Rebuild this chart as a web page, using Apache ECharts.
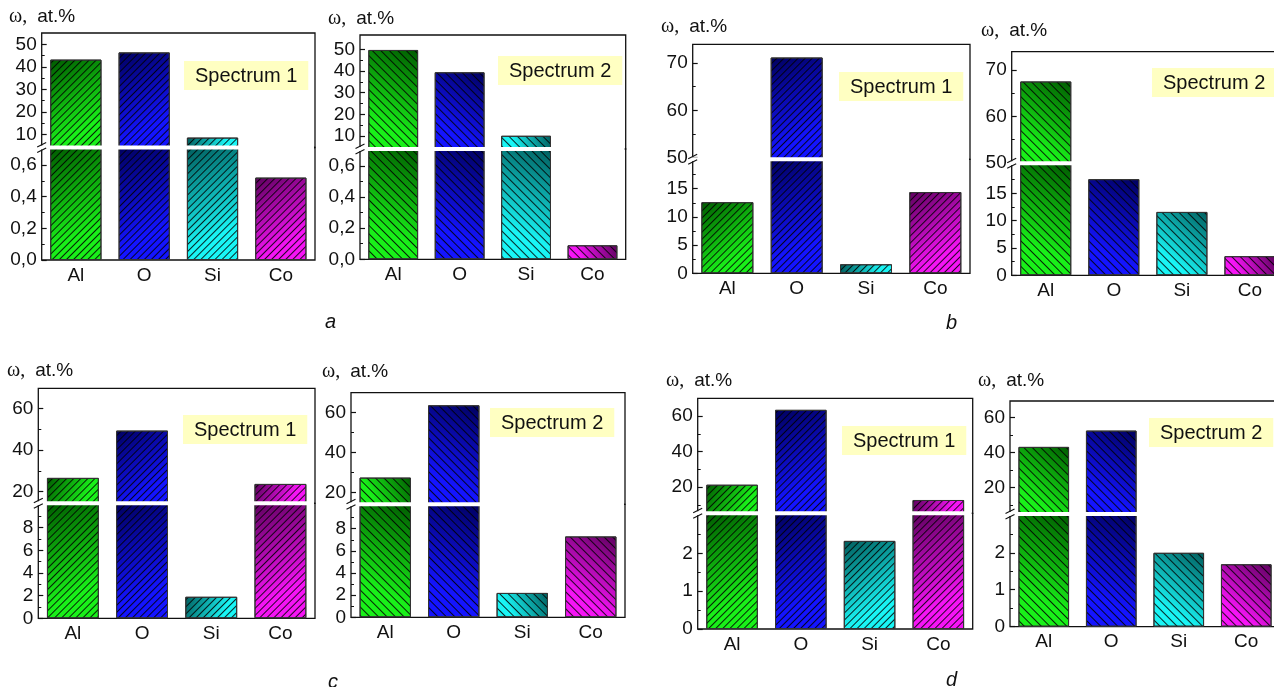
<!DOCTYPE html>
<html>
<head>
<meta charset="utf-8">
<script src="https://cdn.jsdelivr.net/npm/echarts@6/dist/echarts.min.js"></script>
<style>
    html, body {margin: 0; padding: 0; background: #fff;}
    #main {width: 1274px; height: 687px;}
</style>
</head>
<body>
<div id="main"></div>
<script>
// elements on the x axis
const categories = ["Al", "O", "Si", "Co"];

// ω, at.% (a..d, spectrum 1 / spectrum 2)
const valuesA1 = [43.2, 46.4, 8.6, 0.52];
const valuesA2 = [49.7, 39.4, 10.1, 0.09];
const valuesB1 = [12.6, 71.2, 1.6, 14.4];
const valuesB2 = [67.5, 17.6, 11.6, 3.5];
const valuesC1 = [26.6, 49.3, 1.9, 23.7];
const valuesC2 = [27.5, 63.5, 2.2, 7.3];
const valuesD1 = [21.3, 63.5, 2.33, 12.7];
const valuesD2 = [43.3, 52.6, 2.0, 1.69];

// tick labels, upper / lower segment of the broken axis
const ticksUpA = [10, 20, 30, 40, 50];
const minorUpA = [15, 25, 35, 45];
const ticksLowA = [0, 0.2, 0.4, 0.6];
const minorLowA = [0.1, 0.3, 0.5];
const ticksUpB = [50, 60, 70];
const minorUpB = [55, 65];
const ticksLowB = [0, 5, 10, 15];
const minorLowB = [2.5, 7.5, 12.5, 17.5];
const ticksUpC = [20, 40, 60];
const minorUpC = [30, 50];
const ticksLowC = [0, 2, 4, 6, 8];
const minorLowC = [1, 3, 5, 7, 9];
const ticksUpD = [20, 40, 60];
const minorUpD = [10, 30, 50];
const ticksLowD = [0, 1, 2];
const minorLowD = [0.5, 1.5, 2.5];

const SANS = "Liberation Sans, Arial, sans-serif"; // arial look
const SERIF = "Liberation Serif, Times New Roman, serif"; // for ω
const INK = "#111";
// dark -> bright for each element
const PALETTE = [
    ["#005a00", "#19f019"],
    ["#00005e", "#1414ff"],
    ["#005c5c", "#19f5f5"],
    ["#5e005e", "#f514f5"]
];

// panel layout (pixels) and axis ranges
const panels = [
    {vals: valuesA1, spec: 1, L: 41.7, R: 315, T: 33, B: 147.5, Bot: 260, up: [4.2, 55], low: 0.71,
        upT: ticksUpA, upM: minorUpA, lowT: ticksLowA, lowM: minorLowA, dec: 1, lab: [9, 18], box: [184, 61]},
    {vals: valuesA2, spec: 2, L: 360, R: 625.7, T: 35, B: 149, Bot: 259.3, up: [4.0, 56.6], low: 0.709,
        upT: ticksUpA, upM: minorUpA, lowT: ticksLowA, lowM: minorLowA, dec: 1, lab: [328, 20], box: [498, 56]},
    {vals: valuesB1, spec: 1, L: 692.7, R: 970, T: 44.3, B: 159.3, Bot: 273.3, up: [49.6, 74], low: 20.2,
        upT: ticksUpB, upM: minorUpB, lowT: ticksLowB, lowM: minorLowB, dec: 0, lab: [661, 28], box: [839, 72]},
    {vals: valuesB2, spec: 2, L: 1011.7, R: 1284, T: 51.7, B: 163.3, Bot: 275.3, up: [49.9, 73.9], low: 20.5,
        upT: ticksUpB, upM: minorUpB, lowT: ticksLowB, lowM: minorLowB, dec: 0, lab: [981, 32], box: [1152, 68]},
    {vals: valuesC1, spec: 1, L: 38.3, R: 315, T: 388.3, B: 503.3, Bot: 618.3, up: [14.4, 69.6], low: 10.15,
        upT: ticksUpC, upM: minorUpC, lowT: ticksLowC, lowM: minorLowC, dec: 0, lab: [7, 372], box: [183, 415]},
    {vals: valuesC2, spec: 2, L: 351, R: 625, T: 392.7, B: 504.3, Bot: 617.3, up: [14.2, 69.75], low: 10.2,
        upT: ticksUpC, upM: minorUpC, lowT: ticksLowC, lowM: minorLowC, dec: 0, lab: [322, 373], box: [490, 408]},
    {vals: valuesD1, spec: 1, L: 697.7, R: 972.7, T: 398.3, B: 513.3, Bot: 629, up: [5.2, 70], low: 3.06,
        upT: ticksUpD, upM: minorUpD, lowT: ticksLowD, lowM: minorLowD, dec: 0, lab: [666, 382], box: [842, 426]},
    {vals: valuesD2, spec: 2, L: 1010, R: 1280, T: 401, B: 514, Bot: 626.7, up: [5, 69.5], low: 3.05,
        upT: ticksUpD, upM: minorUpD, lowT: ticksLowD, lowM: minorLowD, dec: 0, lab: [978, 382], box: [1149, 418]}
];

const letters = [
    {text: "a", x: 325, y: 312},
    {text: "b", x: 946, y: 313},
    {text: "c", x: 328, y: 672},
    {text: "d", x: 946, y: 670}
];

function barColor(i, spec) {
    let c = PALETTE[i];
    let stops = [{offset: 0, color: c[0]}, {offset: 0.75, color: c[1]}, {offset: 1, color: c[1]}];
    return spec === 1
        ? new echarts.graphic.LinearGradient(0, 0, 1, 1, stops)
        : new echarts.graphic.LinearGradient(1, 0, 0, 1, stops);
}

// negative rotation gives "/", positive gives "\"
function hatch(spec) {
    return {
        symbol: "rect",
        symbolSize: 1,
        dashArrayX: [1, 0],
        dashArrayY: spec === 1 ? [1, 3.2] : [1, 5],
        rotation: spec === 1 ? -Math.PI / 4 : Math.PI / 4,
        color: "rgba(0,0,0,0.85)"
    };
}

const grids = [], xAxes = [], yAxes = [], series = [], titles = [], graphics = [];

panels.forEach(function (p) {
    let fmt = p.dec ? (v) => v.toFixed(p.dec).replace(".", ",") : (v) => String(v);
    let segs = [
        {top: p.T, height: p.B - p.T, min: p.up[0], max: p.up[1], ticks: p.upT, minor: p.upM, fmt: String, bottom: false},
        {top: p.B, height: p.Bot - p.B, min: 0, max: p.low, ticks: p.lowT, minor: p.lowM, fmt: fmt, bottom: true}
    ];
    segs.forEach(function (s) {
        let gi = grids.length;
        grids.push({
            left: p.L, top: s.top, width: p.R - p.L, height: s.height,
            show: true, borderColor: INK, borderWidth: 1.3, backgroundColor: "transparent",
            containLabel: false, outerBoundsMode: "none"
        });
        xAxes.push({
            type: "category", gridIndex: gi, data: categories,
            axisLine: {show: false}, axisTick: {show: false},
            axisLabel: {show: s.bottom, color: INK, fontFamily: SANS, fontSize: 19, margin: 6}
        });
        let yi = yAxes.length;
        yAxes.push({
            type: "value", gridIndex: gi, min: s.min, max: s.max, position: "left",
            splitLine: {show: false}, axisLine: {show: false},
            axisTick: {show: true, inside: true, length: 5, customValues: s.ticks, lineStyle: {color: INK, width: 1.2}},
            axisLabel: {customValues: s.ticks, formatter: s.fmt, color: INK, fontFamily: SANS, fontSize: 19, margin: 5}
        });
        yAxes.push({
            type: "value", gridIndex: gi, min: s.min, max: s.max, position: "left",
            splitLine: {show: false}, axisLine: {show: false}, axisLabel: {show: false},
            axisTick: {show: true, inside: true, length: 3, customValues: s.minor, lineStyle: {color: INK, width: 1}}
        });
        series.push({
            type: "bar", xAxisIndex: gi, yAxisIndex: yi, clip: true, silent: true,
            barCategoryGap: "25%",
            data: p.vals.map((v, i) => ({
                value: v,
                itemStyle: {color: barColor(i, p.spec), borderColor: "#333", borderWidth: 1, decal: hatch(p.spec)}
            }))
        });
    });

    // break: white gap across the plot and the // marks on the axis
    graphics.push({
        type: "rect", z: 50, silent: true,
        shape: {x: p.L - 3, y: p.B - 2, width: p.R - p.L + 2, height: 4},
        style: {fill: "#fff"}
    });
    [[-0.5, -5], [5, 0.5]].forEach(function (d) {
        graphics.push({
            type: "line", z: 51, silent: true,
            shape: {x1: p.L - 4.5, y1: p.B + d[0], x2: p.L + 4.5, y2: p.B + d[1]},
            style: {stroke: INK, lineWidth: 1.2}
        });
    });

    titles.push({
        text: "{w|ω,}  {t|at.%}", left: p.lab[0], top: p.lab[1] - 11, padding: 0,
        textStyle: {
            fontWeight: "normal",
            rich: {
                w: {fontFamily: SERIF, fontSize: 20, fontWeight: "normal", color: INK},
                t: {fontFamily: SANS, fontSize: 19, fontWeight: "normal", color: INK}
            }
        }
    });
    titles.push({
        text: "Spectrum " + p.spec, left: p.box[0], top: p.box[1],
        backgroundColor: "#ffffc2", padding: [5, 11, 4, 11],
        textStyle: {fontFamily: SANS, fontSize: 20, fontWeight: "normal", color: INK, lineHeight: 20}
    });
});

letters.forEach(function (l) {
    titles.push({
        text: l.text, left: l.x, top: l.y, padding: 0,
        textStyle: {fontFamily: SANS, fontSize: 20, fontStyle: "italic", fontWeight: "normal", color: INK}
    });
});

const chart = echarts.init(document.getElementById("main"), null, {renderer: "canvas"});
chart.setOption({
    backgroundColor: "#fff",
    animation: false,
    title: titles,
    grid: grids,
    xAxis: xAxes,
    yAxis: yAxes,
    series: series,
    graphic: graphics
});
</script>
</body>
</html>
